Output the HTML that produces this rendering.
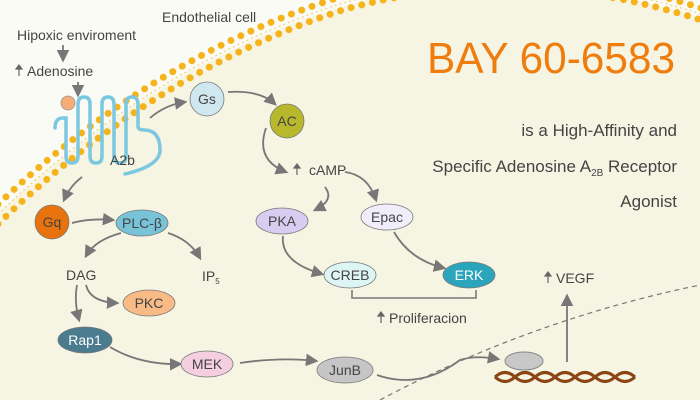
<!DOCTYPE html>
<html><head><meta charset="utf-8"><style>
html,body{margin:0;padding:0;background:#fbfbf4}
svg{display:block;font-family:"Liberation Sans",sans-serif}
</style></head><body>
<svg width="700" height="400" viewBox="0 0 700 400" xmlns="http://www.w3.org/2000/svg">
<defs>
<marker id="ah" viewBox="0 0 10 10" refX="8" refY="5" markerWidth="7" markerHeight="7" orient="auto"><path d="M0,0 L10,5 L0,10 Z" fill="#777"/></marker>
</defs>
<rect width="700" height="400" fill="#fbfbf6"/>
<path d="M-10,222 Q150,67 340,7 Q520,-43 710,21 L710,410 L-10,410 Z" fill="#f6f4e2"/>
<!-- membrane -->
<path d="M-10,212 Q150,57 340,-3 Q520,-53 710,11" fill="none" stroke="#f5b31c" stroke-width="7" stroke-linecap="round" stroke-dasharray="0 11"/>
<path d="M-2,224 Q158,69 346,9 Q524,-40 710,23" fill="none" stroke="#f5b31c" stroke-width="7" stroke-linecap="round" stroke-dasharray="0 11"/>
<path d="M-6,218 Q154,63 343,3 Q522,-46 710,17" fill="none" stroke="#f7c75a" stroke-width="1" stroke-dasharray="2 3"/>
<!-- dashed nucleus -->
<path d="M380,400 Q530,320 700,285" fill="none" stroke="#777" stroke-width="1.2" stroke-dasharray="5 4"/>
<!-- receptor -->
<path d="M55,128 Q55,118 63,118 L66,118 L66,156 Q66,163 72,163 Q78,163 78,156 L78,104 Q78,97 84,97 Q90,97 90,104 L90,156 Q90,163 96,163 Q102,163 102,156 L102,104 Q102,97 108,97 Q114,97 114,104 L114,156 Q114,163 120,163 Q126,163 126,156 L126,104 Q126,97 132,97 Q138,97 138,104 L138,126 Q138,130 144,130 Q160,130 160,150 Q160,166 125,174" fill="none" stroke="#7cc8e0" stroke-width="3.5" stroke-linecap="round"/>
<circle cx="68" cy="103" r="7" fill="#f6ac74" stroke="#999" stroke-width="0.8"/>
<!-- texts -->
<g fill="#444" font-size="14">
<text x="162" y="22">Endothelial cell</text>
<text x="17" y="40">Hipoxic enviroment</text>
<text x="27" y="76">Adenosine</text>
<text x="110" y="165">A2b</text>
<text x="309" y="175">cAMP</text>
<text x="66" y="280">DAG</text>
<text x="202" y="281">IP<tspan font-size="8" dy="3">5</tspan></text>
<text x="389" y="323">Proliferacion</text>
<text x="556" y="283">VEGF</text>
</g>
<g stroke="#666" stroke-width="1.2" fill="#666">
<path d="M19,76 V67" /><path d="M16,69 L19,65 L22,69Z"/>
<path d="M297,175 V166"/><path d="M294,168 L297,164 L300,168Z"/>
<path d="M381,323 V314"/><path d="M378,316 L381,312 L384,316Z"/>
<path d="M548,283 V274"/><path d="M545,276 L548,272 L551,276Z"/>
</g>
<!-- arrows -->
<g fill="none" stroke="#777" stroke-width="1.8" marker-end="url(#ah)">
<path d="M63,45 V60"/>
<path d="M78,82 V95"/>
<path d="M150,118 Q165,105 185,102"/>
<path d="M228,92 Q260,90 275,104"/>
<path d="M266,128 Q255,160 286,172"/>
<path d="M82,177 Q70,186 64,200"/>
<path d="M72,223 Q90,218 113,220"/>
<path d="M121,233 Q95,240 86,256"/>
<path d="M168,233 Q190,240 200,258"/>
<path d="M86,285 Q90,302 117,303"/>
<path d="M77,285 Q74,302 79,320"/>
<path d="M110,347 Q140,365 180,364"/>
<path d="M240,363 Q280,357 316,361"/>
<path d="M325,187 Q335,200 315,210"/>
<path d="M345,172 Q368,175 376,200"/>
<path d="M283,236 Q280,262 322,274"/>
<path d="M394,232 Q410,260 444,268"/>
<path d="M377,375 Q420,390 460,360 Q475,355 498,359"/>
<path d="M567,362 V296"/>
</g>
<path d="M352,290 V298 H476 V290" fill="none" stroke="#888" stroke-width="1.8"/>
<!-- DNA -->
<g stroke="#8b4513" stroke-width="3" fill="none">
<path d="M495,377 Q505,368 515,377 T535,377 T555,377 T575,377 T595,377 T615,377 T635,377"/>
<path d="M495,377 Q505,386 515,377 T535,377 T555,377 T575,377 T595,377 T615,377 T635,377"/>
</g>
<ellipse cx="524" cy="361" rx="19" ry="9" fill="#c8c8c8" stroke="#888"/>
<!-- nodes -->
<g stroke="#777" stroke-width="0.8" font-size="14" text-anchor="middle">
<circle cx="207" cy="99" r="17" fill="#cfe8f0"/>
<circle cx="287" cy="121" r="17" fill="#b7b82c"/>
<circle cx="52" cy="222" r="17" fill="#e8720c"/>
<ellipse cx="142" cy="223" rx="26" ry="13" fill="#79c3d8"/>
<ellipse cx="149" cy="303" rx="26" ry="13" fill="#f8bb86"/>
<ellipse cx="85" cy="340" rx="27" ry="13" fill="#4b7b8f"/>
<ellipse cx="207" cy="364" rx="26" ry="13" fill="#f5cfe0"/>
<ellipse cx="345" cy="370" rx="28" ry="13" fill="#c6c6c6"/>
<ellipse cx="282" cy="221" rx="26" ry="13" fill="#d8ccf0"/>
<ellipse cx="387" cy="217" rx="26" ry="13" fill="#f1eefb"/>
<ellipse cx="350" cy="275" rx="26" ry="13" fill="#def5f5"/>
<ellipse cx="469" cy="275" rx="26" ry="13" fill="#2ba5bc"/>
</g>
<g font-size="14" text-anchor="middle" fill="#444">
<text x="207" y="104">Gs</text>
<text x="287" y="126">AC</text>
<text x="52" y="227">Gq</text>
<text x="142" y="228">PLC-β</text>
<text x="149" y="308">PKC</text>
<text x="85" y="345" fill="#fff">Rap1</text>
<text x="207" y="369">MEK</text>
<text x="345" y="375">JunB</text>
<text x="282" y="226">PKA</text>
<text x="387" y="222">Epac</text>
<text x="350" y="280">CREB</text>
<text x="469" y="280" fill="#fff">ERK</text>
</g>
<text x="675" y="73" text-anchor="end" font-size="44" fill="#ee7d0e" textLength="248" lengthAdjust="spacingAndGlyphs">BAY 60-6583</text>
<g font-size="17" fill="#444" text-anchor="end">
<text x="677" y="136">is a High-Affinity and</text>
<text x="677" y="172">Specific Adenosine A<tspan font-size="10" dy="4">2B</tspan><tspan dy="-4"> Receptor</tspan></text>
<text x="677" y="207">Agonist</text>
</g>
</svg>
</body></html>
